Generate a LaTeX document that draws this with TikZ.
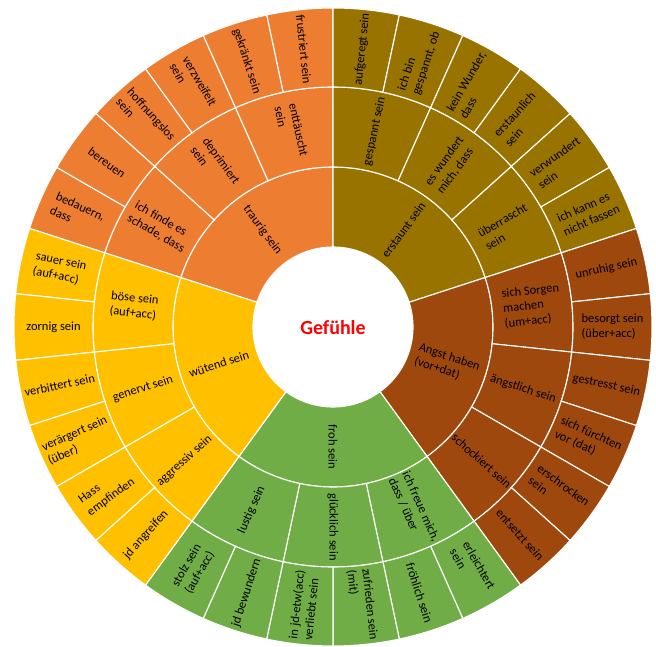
\documentclass[tikz,border=0pt]{standalone}
\usepackage{fontspec}
\setmainfont{Carlito}
\definecolor{traurigC}{HTML}{ED7D31}
\definecolor{erstauntC}{HTML}{997300}
\definecolor{angstC}{HTML}{9E480E}
\definecolor{frohC}{HTML}{70AD47}
\definecolor{wuetendC}{HTML}{FFC000}
\definecolor{titleC}{HTML}{FF0000}
\tikzset{
  lbl/.style={font=\fontsize{12.5}{15}\selectfont, align=left, inner sep=0pt, text=black},
  segline/.style={draw=white, line width=1.1pt},
  title/.style={font=\bfseries\fontsize{20}{24}\selectfont, text=titleC, inner sep=0pt}
}
% #1 name, #2 colour, #3 a1, #4 a2, #5 r in, #6 r out, #7 rotation, #8 text
\newcommand\sbsect[8]{%
  \filldraw[fill=#2, segline] (#3:#5pt) arc[start angle=#3, end angle=#4, radius=#5pt]
     -- (#4:#6pt) arc[start angle=#4, end angle=#3, radius=#6pt] -- cycle;
  \pgfmathsetmacro\sbmida{(#3+#4)/2}%
  \pgfmathsetmacro\sbmidr{(#5+#6)/2}%
  \node[lbl, rotate=#7] (#1) at (\sbmida:\sbmidr pt) {#8};
}
\begin{document}
\begin{tikzpicture}
\useasboundingbox (0pt,0pt) rectangle (656pt,646pt);
\begin{scope}[shift={(333pt,319pt)}]
% ring 1
\sbsect{traurig}{traurigC}{90}{162}{80}{160}{-54}{traurig sein}
\sbsect{erstaunt}{erstauntC}{18}{90}{80}{160}{54}{erstaunt sein}
\sbsect{angst}{angstC}{-54}{18}{80}{160}{-18}{Angst haben\\(vor+dat)}
\sbsect{froh}{frohC}{-126}{-54}{80}{160}{-90}{froh sein}
\sbsect{wuetend}{wuetendC}{162}{234}{80}{160}{18}{wütend sein}
% ring 2
\sbsect{enttaeuscht}{traurigC}{90}{114}{160}{240}{-78}{enttäuscht\\sein}
\sbsect{deprimiert}{traurigC}{114}{138}{160}{240}{-54}{deprimiert\\sein}
\sbsect{schade}{traurigC}{138}{162}{160}{240}{-30}{ich finde es\\schade, dass}
\sbsect{gespannt}{erstauntC}{66}{90}{160}{240}{78}{gespannt sein}
\sbsect{wundert}{erstauntC}{42}{66}{160}{240}{54}{es wundert\\mich, dass}
\sbsect{ueberrascht}{erstauntC}{18}{42}{160}{240}{30}{überrascht\\sein}
\sbsect{sorgen}{angstC}{-6}{18}{160}{240}{6}{sich Sorgen\\machen\\(um+acc)}
\sbsect{aengstlich}{angstC}{-30}{-6}{160}{240}{-18}{ängstlich sein}
\sbsect{schockiert}{angstC}{-54}{-30}{160}{240}{-42}{schockiert sein}
\sbsect{freue}{frohC}{-78}{-54}{160}{240}{-66}{ich freue mich,\\dass / über}
\sbsect{gluecklich}{frohC}{-102}{-78}{160}{240}{-90}{glücklich sein}
\sbsect{lustig}{frohC}{-126}{-102}{160}{240}{66}{lustig sein}
\sbsect{boese}{wuetendC}{162}{186}{160}{240}{-6}{böse sein\\(auf+acc)}
\sbsect{genervt}{wuetendC}{186}{210}{160}{240}{18}{genervt sein}
\sbsect{aggressiv}{wuetendC}{210}{234}{160}{240}{42}{aggressiv sein}
% ring 3
\sbsect{frustriert}{traurigC}{90}{102}{240}{319}{-84}{frustriert sein}
\sbsect{gekraenkt}{traurigC}{102}{114}{240}{319}{-72}{gekränkt sein}
\sbsect{verzweifelt}{traurigC}{114}{126}{240}{319}{-60}{verzweifelt\\sein}
\sbsect{hoffnungslos}{traurigC}{126}{138}{240}{319}{-48}{hoffnungslos\\sein}
\sbsect{bereuen}{traurigC}{138}{150}{240}{319}{-36}{bereuen}
\sbsect{bedauern}{traurigC}{150}{162}{240}{319}{-24}{bedauern,\\dass}
\sbsect{aufgeregt}{erstauntC}{78}{90}{240}{319}{84}{aufgeregt sein}
\sbsect{ichbin}{erstauntC}{66}{78}{240}{319}{72}{ich bin\\gespannt, ob}
\sbsect{keinwunder}{erstauntC}{54}{66}{240}{319}{60}{kein Wunder,\\dass}
\sbsect{erstaunlich}{erstauntC}{42}{54}{240}{319}{48}{erstaunlich\\sein}
\sbsect{verwundert}{erstauntC}{30}{42}{240}{319}{36}{verwundert\\sein}
\sbsect{fassen}{erstauntC}{18}{30}{240}{319}{24}{ich kann es\\nicht fassen}
\sbsect{unruhig}{angstC}{6}{18}{240}{319}{12}{unruhig sein}
\sbsect{besorgt}{angstC}{-6}{6}{240}{319}{0}{besorgt sein\\(über+acc)}
\sbsect{gestresst}{angstC}{-18}{-6}{240}{319}{-12}{gestresst sein}
\sbsect{fuerchten}{angstC}{-30}{-18}{240}{319}{-24}{sich fürchten\\vor (dat)}
\sbsect{erschrocken}{angstC}{-42}{-30}{240}{319}{-36}{erschrocken\\sein}
\sbsect{entsetzt}{angstC}{-54}{-42}{240}{319}{-48}{entsetzt sein}
\sbsect{erleichtert}{frohC}{-66}{-54}{240}{319}{-60}{erleichtert\\sein}
\sbsect{froehlich}{frohC}{-78}{-66}{240}{319}{-72}{fröhlich sein}
\sbsect{zufrieden}{frohC}{-90}{-78}{240}{319}{-84}{zufrieden sein\\(mit)}
\sbsect{verliebt}{frohC}{-102}{-90}{240}{319}{84}{in jd-etw(acc)\\verliebt sein}
\sbsect{bewundern}{frohC}{-114}{-102}{240}{319}{72}{jd bewundern}
\sbsect{stolz}{frohC}{-126}{-114}{240}{319}{60}{stolz sein\\(auf+acc)}
\sbsect{sauer}{wuetendC}{162}{174}{240}{319}{-12}{sauer sein\\(auf+acc)}
\sbsect{zornig}{wuetendC}{174}{186}{240}{319}{0}{zornig sein}
\sbsect{verbittert}{wuetendC}{186}{198}{240}{319}{12}{verbittert sein}
\sbsect{veraergert}{wuetendC}{198}{210}{240}{319}{24}{verärgert sein\\(über)}
\sbsect{hass}{wuetendC}{210}{222}{240}{319}{36}{Hass\\empfinden}
\sbsect{angreifen}{wuetendC}{222}{234}{240}{319}{48}{jd angreifen}
\node[title] (gefuehle) at (0pt,-1pt) {Gefühle};
\end{scope}
\end{tikzpicture}
\end{document}
